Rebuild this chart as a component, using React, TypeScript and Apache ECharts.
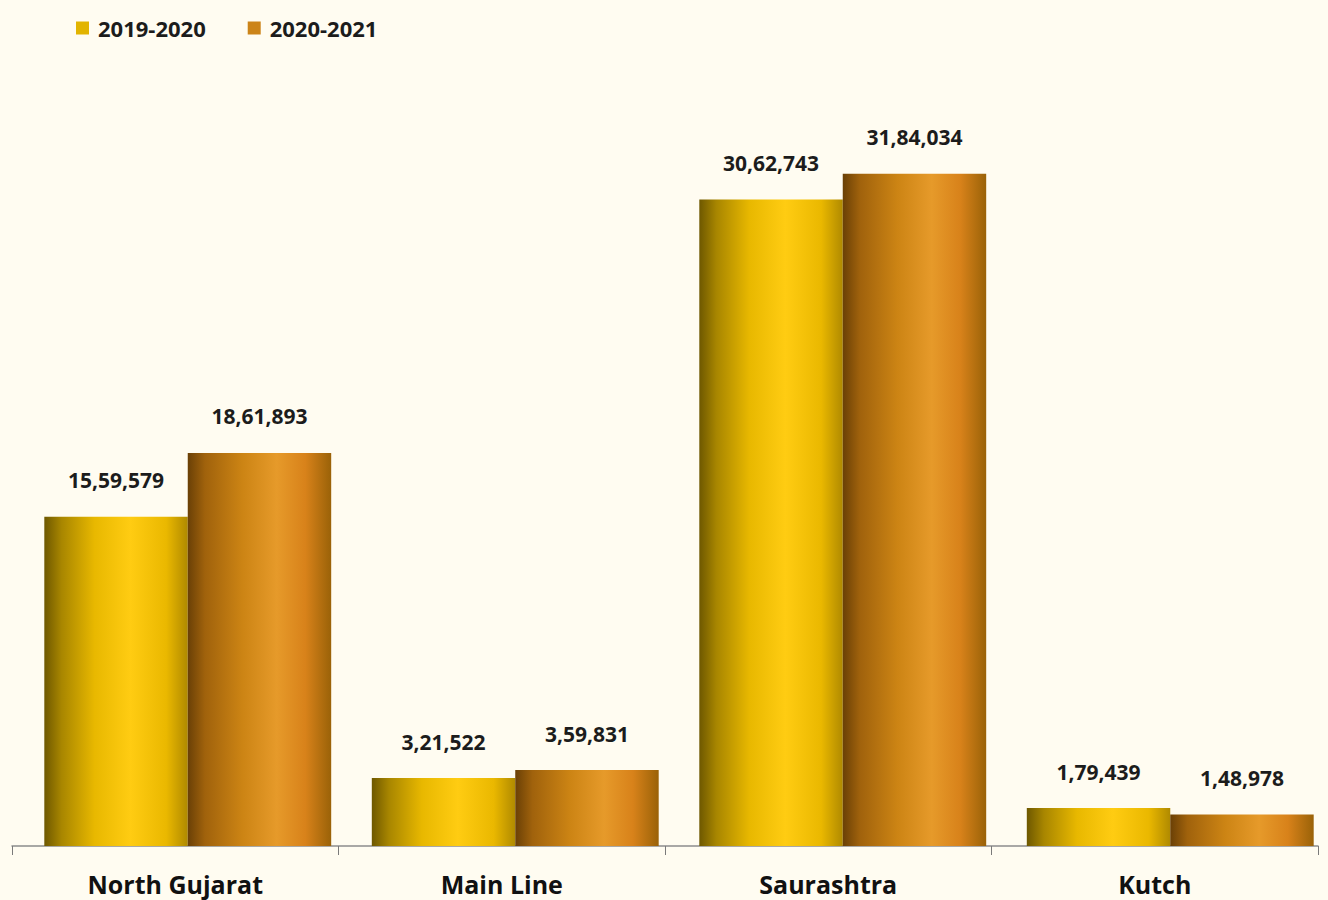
import React, { useEffect, useRef } from "react";
import * as echarts from "echarts";

const categories = ["North Gujarat", "Main Line", "Saurashtra", "Kutch"];
const seriesNames = ["2019-2020", "2020-2021"];
const values2019 = [1559579, 321522, 3062743, 179439];
const values2020 = [1861893, 359831, 3184034, 148978];

const fmtIndian = (n: number): string => {
  const s = String(Math.round(n));
  if (s.length <= 3) return s;
  const last3 = s.slice(-3);
  let rest = s.slice(0, -3);
  const parts: string[] = [];
  while (rest.length > 2) {
    parts.unshift(rest.slice(-2));
    rest = rest.slice(0, -2);
  }
  if (rest.length) parts.unshift(rest);
  return parts.join(",") + "," + last3;
};

const grad = (stops: [number, string][]) =>
  new echarts.graphic.LinearGradient(
    0, 0, 1, 0,
    stops.map(([offset, color]) => ({ offset, color }))
  );

export default function App() {
  const ref = useRef<HTMLDivElement>(null);
  useEffect(() => {
    document.body.style.margin = "0";
    const chart = echarts.init(ref.current!, undefined, { renderer: "svg" });
    const font = "'Open Sans', 'Noto Sans', sans-serif";
    const labelStyle = {
      show: true,
      position: "top" as const,
      distance: 26,
      fontFamily: font,
      fontWeight: "bold" as const,
      fontSize: 21,
      color: "#1c1c1c",
      formatter: (p: any) => fmtIndian(p.value),
    };
    chart.setOption({
      animation: false,
      backgroundColor: "#fffcf1",
      legend: {
        left: 71,
        top: 12,
        itemWidth: 13,
        itemHeight: 13,
        itemGap: 42,
        icon: "rect",
        textStyle: {
          fontFamily: font,
          fontWeight: "bold",
          fontSize: 22,
          color: "#1c1c1c",
          padding: [0, 0, 0, 4],
        },
        data: [
          { name: seriesNames[0], itemStyle: { color: "#e2b400" } },
          { name: seriesNames[1], itemStyle: { color: "#cc8418" } },
        ],
      },
      grid: [
        { left: 12, right: 22, top: 86, bottom: 54, containLabel: false },
        { left: 24, right: 6, top: 86, bottom: 54, containLabel: false },
      ],
      xAxis: [
        {
          type: "category",
          gridIndex: 0,
          data: categories,
          axisLine: { lineStyle: { color: "#8c8c8c", width: 1.5 } },
          axisTick: { show: true, length: 9, lineStyle: { color: "#7a7a7a" } },
          axisLabel: {
            margin: 25,
            fontFamily: font,
            fontWeight: "bold",
            fontSize: 25,
            color: "#111",
          },
        },
        {
          type: "category",
          gridIndex: 1,
          data: categories,
          show: false,
        },
      ],
      yAxis: [
        { type: "value", gridIndex: 0, min: 0, max: 3600000, show: false, splitLine: { show: false } },
        { type: "value", gridIndex: 1, min: 0, max: 3600000, show: false, splitLine: { show: false } },
      ],
      series: [
        {
          name: seriesNames[0],
          type: "bar",
          xAxisIndex: 1,
          yAxisIndex: 1,
          data: values2019,
          barGap: "0%",
          barCategoryGap: "12.4%",
          itemStyle: {
            color: grad([
              [0, "#6e5800"],
              [0.12, "#a88600"],
              [0.35, "#e8b800"],
              [0.6, "#ffcc12"],
              [0.85, "#eab800"],
              [1, "#b08a00"],
            ]),
          },
          label: labelStyle,
        },
        {
          name: seriesNames[1],
          type: "bar",
          xAxisIndex: 1,
          yAxisIndex: 1,
          data: values2020,
          itemStyle: {
            color: grad([
              [0, "#6a4006"],
              [0.12, "#a0620c"],
              [0.38, "#cc8414"],
              [0.62, "#e69a2a"],
              [0.82, "#d8821a"],
              [1, "#9a6208"],
            ]),
          },
          label: labelStyle,
        },
      ],
    });
    return () => chart.dispose();
  }, []);
  return (
    <div style={{ width: 1328, height: 900, overflow: "hidden", background: "#fffcf1" }}>
      <div ref={ref} style={{ width: 1340, height: 900 }} />
    </div>
  );
}
